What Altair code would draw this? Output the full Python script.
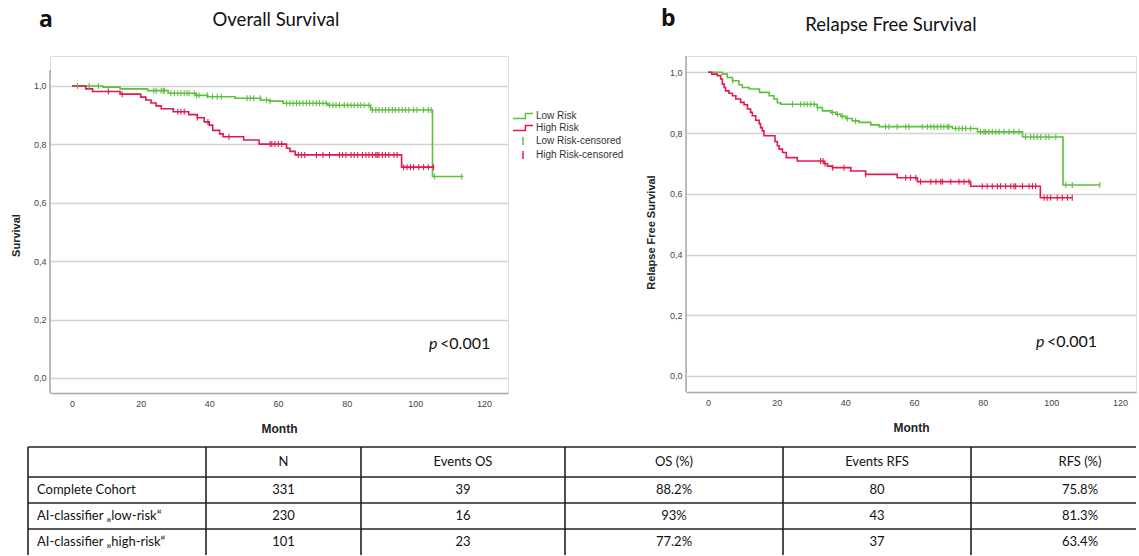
import altair as alt
import pandas as pd

# ---------------- data ----------------
# Overall survival, Kaplan-Meier steps (month, survival after the step)
os_low_month = [0, 9, 14, 22, 28, 36, 39.5, 47.5, 55, 57.5, 61.5, 74.5, 87, 105, 114]
os_low_surv = [1.0, 0.996, 0.990, 0.984, 0.975, 0.968, 0.963, 0.958, 0.952, 0.948,
               0.941, 0.934, 0.918, 0.690, 0.690]
os_high_month = [0, 4, 6, 14, 20, 21.5, 23, 24.5, 26, 29.5, 34, 36.5, 38.5, 40, 41, 43,
                 44, 50, 54.5, 62.5, 63.5, 65, 96, 105.5]
os_high_surv = [1.0, 0.990, 0.981, 0.972, 0.962, 0.952, 0.942, 0.932, 0.922, 0.912, 0.902,
                0.891, 0.877, 0.866, 0.848, 0.836, 0.826, 0.815, 0.801, 0.787, 0.776,
                0.764, 0.722, 0.722]
os_low_censored = [1.6, 5, 7.7, 23.8, 24.5, 26, 26.6, 26.9, 28.8, 29.8, 30.8, 31.7, 32.7,
                   33.5, 34.1, 35.6, 36.3, 37, 39.4, 40.9, 42.3, 43.5, 51, 51.9, 52.9, 54.8,
                   56.7, 57.7, 62.5, 63.5, 64.4, 65.4, 66.3, 67.3, 68.3, 69.2, 70.2, 71.2,
                   72.1, 73.1, 74, 75, 76, 76.9, 77.9, 79.3, 80.3, 81.3, 82.2, 83.2, 84.1,
                   85.1, 86.5, 87.5, 88.5, 89.4, 90.4, 91.3, 92.3, 93.3, 94.2, 95.2, 96.2,
                   97.1, 98.1, 99.5, 100.5, 102.4, 103.8, 104.6, 105.6, 113.5]
os_high_censored = [10.6, 14.6, 30.8, 31.7, 32.7, 36.5, 39.6, 45.7, 57.7, 58.2, 59.1, 60.1,
                    61.1, 65.9, 66.8, 67.8, 71.2, 73.1, 75, 77.9, 78.8, 79.8, 81.3, 82.2,
                    83.2, 84.6, 85.6, 86.5, 87.5, 88.5, 88.9, 89.4, 90.4, 91.3, 92.3, 93.8,
                    94.7, 96.6, 97.6, 98.6, 99.5, 101, 102.4, 103.8, 105.3]

# Relapse free survival
rfs_low_month = [0, 4.2, 5.6, 7.1, 9, 10, 12, 15, 17.8, 19.2, 20.2, 21.2, 31.8, 33.3, 35.7,
                 37.2, 38.6, 40.1, 42, 44, 47.4, 49.8, 71.2, 78.5, 91.6, 103.4, 114.1]
rfs_low_surv = [1.0, 0.994, 0.983, 0.972, 0.959, 0.950, 0.945, 0.934, 0.923, 0.912, 0.900,
                0.895, 0.884, 0.873, 0.868, 0.862, 0.855, 0.848, 0.840, 0.835, 0.827,
                0.821, 0.815, 0.804, 0.787, 0.629, 0.629]
rfs_high_month = [0, 1.1, 2.7, 3.7, 4.2, 4.7, 5.1, 6.1, 7.1, 8.1, 9.5, 10.5, 11.5, 12.4,
                  12.9, 13.9, 14.9, 15.3, 15.8, 16.3, 19.5, 20.2, 20.7, 21.7, 22.8, 26,
                  33.8, 34.8, 36.2, 41.6, 45.9, 55.1, 61, 76.5, 96.8, 106]
rfs_high_surv = [1.0, 0.994, 0.989, 0.978, 0.961, 0.950, 0.939, 0.931, 0.923, 0.912, 0.901,
                 0.893, 0.879, 0.868, 0.857, 0.842, 0.831, 0.818, 0.807, 0.791, 0.772,
                 0.758, 0.747, 0.736, 0.719, 0.708, 0.699, 0.691, 0.686, 0.675, 0.664,
                 0.653, 0.640, 0.625, 0.587, 0.587]
rfs_low_censored = [7.2, 24.6, 27, 28, 28.9, 29.9, 30.9, 31.9, 36.2, 37.7, 39.1, 40.6, 43,
                    51.7, 52.7, 55.1, 57.6, 58.5, 62.4, 63.9, 64.9, 65.8, 66.8, 67.8, 68.7,
                    69.7, 70.2, 72.1, 73.1, 74.1, 75.1, 76.5, 79.4, 80.4, 80.9, 81.8, 82.8,
                    83.8, 84.8, 86.2, 87.7, 89.1, 90.6, 92.5, 94, 94.9, 95.9, 96.9, 98.4,
                    99.3, 101.3, 104.2, 106.1, 114.1]
rfs_high_censored = [32.8, 33.5, 34.1, 36.3, 39.6, 45.9, 57.6, 59, 60.5, 61.9, 64.9, 66.4,
                     67.8, 68.3, 70.7, 73.1, 74.6, 76, 79.9, 81.3, 82.8, 84.3, 85.2, 86.7,
                     88.2, 89.1, 89.6, 91.6, 93.5, 94.5, 95.4, 97.9, 98.8, 99.8, 101.7,
                     103.2, 104.7, 106.1]

series_names = ["Low Risk", "High Risk", "Low Risk-censored", "High Risk-censored"]
p_label = ["p", "<0.001"]

# table
table_header = ["", "N", "Events OS", "OS (%)", "Events RFS", "RFS (%)"]
table_groups = ["Complete Cohort", "AI-classifier \u201elow-risk\u201c", "AI-classifier \u201ehigh-risk\u201c"]
table_n = ["331", "230", "101"]
table_events_os = ["39", "16", "23"]
table_os_pct = ["88.2%", "93%", "77.2%"]
table_events_rfs = ["80", "43", "37"]
table_rfs_pct = ["75.8%", "81.3%", "63.4%"]

# ---------------- styling / layout ----------------
GREEN = "#5cbf3e"
RED = "#e2184c"
GRID = "#d2d2d2"
AXIS_GRAY = "#a8a8a8"
STEP = "M-2.5,0.6H0.6V-0.6H2.5"
TICK = "M0,-1V1"
SERIES_COLORS = [GREEN, RED, GREEN, RED]
SERIES_SHAPES = [STEP, STEP, TICK, TICK]

LEFT_ORIGIN = (51, 56)  # page position of the left plot area
LEFT = dict(width=458, height=337, xdom=[-6.41, 127.0], ydom=[-0.0514, 1.1027],
            axis_top=1.0548, ytitle="Survival", ytitle_x=-34, ytitle_y=179,
            title="Overall Survival", title_x=226, title_y=-36, letter="a",
            letter_x=-11, letter_y=-36, p_month=104, p_surv=0.116)
RIGHT = dict(width=450, height=336, xdom=[-6.41, 124.66], ydom=[-0.0527, 1.0537],
             axis_top=1.0537, ytitle="Relapse Free Survival", ytitle_x=-35, ytitle_y=176,
             title="Relapse Free Survival", title_x=205, title_y=-31, letter="b",
             letter_x=-25, letter_y=-37, p_month=95.5, p_surv=0.112)

# table layout in page pixels
COL_EDGES = [29, 207, 362, 566, 784, 972, 1190]
ROW_EDGES = [447, 477, 503, 529, 555]
TABLE_X = [29, 1137]
TABLE_Y = [446, 555]


def surv_at(months, survs, t):
    s = survs[0]
    for m, v in zip(months, survs):
        if m <= t:
            s = v
        else:
            break
    return s


def km_panel(low_m, low_s, high_m, high_s, low_c, high_c, cfg, show_legend):
    low_line = pd.DataFrame({"month": low_m, "surv": low_s})
    high_line = pd.DataFrame({"month": high_m, "surv": high_s})
    cens = pd.DataFrame({
        "month": low_c + high_c,
        "surv": [surv_at(low_m, low_s, t) for t in low_c]
        + [surv_at(high_m, high_s, t) for t in high_c],
        "series": ["Low Risk-censored"] * len(low_c) + ["High Risk-censored"] * len(high_c),
    })
    xs = alt.Scale(domain=cfg["xdom"], nice=False, zero=False)
    ys = alt.Scale(domain=cfg["ydom"], nice=False, zero=False)
    cs = alt.Scale(domain=series_names, range=SERIES_COLORS)
    ss = alt.Scale(domain=series_names, range=SERIES_SHAPES)

    xaxis = alt.Axis(values=[0, 20, 40, 60, 80, 100, 120], format="d", grid=False,
                     domain=True, domainColor=AXIS_GRAY, domainWidth=1.5, ticks=False,
                     labelFont="Liberation Sans", labelFontSize=9, labelColor="#444",
                     labelPadding=6, title="Month", titleFont="Liberation Sans",
                     titleFontSize=12, titleFontWeight="bold", titleColor="#222",
                     titlePadding=15)
    yaxis = alt.Axis(values=[0, 0.2, 0.4, 0.6, 0.8, 1.0],
                     labelExpr="replace(format(datum.value, '.1f'), '.', ',')",
                     grid=True, gridColor=GRID, gridWidth=1.5, domain=False, ticks=False,
                     labelFont="Liberation Sans", labelFontSize=9, labelColor="#444",
                     labelPadding=4, title=cfg["ytitle"], titleFont="Liberation Sans",
                     titleFontSize=11, titleFontWeight="bold", titleColor="#222",
                     titleX=cfg["ytitle_x"], titleY=cfg["ytitle_y"], titleAngle=270,
                     titleAlign="center", titleBaseline="middle")

    low = alt.Chart(low_line).mark_line(interpolate="step-after", strokeWidth=1.6, color=GREEN).encode(
        x=alt.X("month:Q", scale=xs, axis=xaxis),
        y=alt.Y("surv:Q", scale=ys, axis=yaxis),
    )
    high = alt.Chart(high_line).mark_line(interpolate="step-after", strokeWidth=1.6, color=RED).encode(
        x="month:Q", y="surv:Q",
    )
    if show_legend:
        leg = alt.Legend(orient="none", legendX=468, legendY=55, padding=0, title=None,
                         symbolSize=64, symbolStrokeWidth=1.5, labelOffset=8,
                         labelFont="Liberation Sans", labelFontSize=10, labelColor="#333",
                         rowPadding=0)
    else:
        leg = None
    pts = alt.Chart(cens).mark_point(filled=False, size=36, strokeWidth=1.1, opacity=1).encode(
        x="month:Q",
        y="surv:Q",
        color=alt.Color("series:N", scale=cs, legend=leg),
        shape=alt.Shape("series:N", scale=ss, legend=leg),
    )
    axis_line = alt.Chart(pd.DataFrame({"top": [cfg["axis_top"]], "bottom": [cfg["ydom"][0]]})).mark_rule(
        color=AXIS_GRAY, strokeWidth=1.5).encode(
        x=alt.value(0), y="top:Q", y2="bottom:Q")

    pdf = pd.DataFrame({"month": [cfg["p_month"]], "surv": [cfg["p_surv"]],
                        "p": [p_label[0]], "rest": [p_label[1]]})
    p_it = alt.Chart(pdf).mark_text(font="Lato", fontSize=16, fontStyle="italic",
                                    align="left", baseline="middle", color="#111").encode(
        x="month:Q", y="surv:Q", text="p:N")
    p_rest = alt.Chart(pdf).mark_text(font="Lato", fontSize=16, align="left",
                                      baseline="middle", dx=11, color="#111").encode(
        x="month:Q", y="surv:Q", text="rest:N")

    tdf = pd.DataFrame({"title": [cfg["title"]], "letter": [cfg["letter"]]})
    title = alt.Chart(tdf).mark_text(font="Lato", fontSize=18.5, align="center",
                                     baseline="middle", color="#111").encode(
        x=alt.value(cfg["title_x"]), y=alt.value(cfg["title_y"]), text="title:N")
    letter = alt.Chart(tdf).mark_text(font="Open Sans", fontSize=23, fontWeight="bold",
                                      align="left", baseline="middle", color="#111").encode(
        x=alt.value(cfg["letter_x"]), y=alt.value(cfg["letter_y"]), text="letter:N")

    return alt.layer(low, high, axis_line, pts, p_it, p_rest, title, letter)


# ---------------- table (drawn in page-pixel scales, anchored to the left panel) ----------------
cells = []
rows_text = [table_header] + [
    [g, n, eo, op, er, rp] for g, n, eo, op, er, rp in
    zip(table_groups, table_n, table_events_os, table_os_pct, table_events_rfs, table_rfs_pct)
]
for r, row in enumerate(rows_text):
    yc = (ROW_EDGES[r] + ROW_EDGES[r + 1]) / 2
    for c, txt in enumerate(row):
        if c == 0:
            cells.append({"x": COL_EDGES[0] + 9, "y": yc, "t": txt, "al": "left"})
        else:
            cells.append({"x": (COL_EDGES[c] + COL_EDGES[c + 1]) / 2, "y": yc, "t": txt, "al": "center"})
cells = pd.DataFrame(cells)

tx = alt.Scale(domain=TABLE_X, range=[TABLE_X[0] - LEFT_ORIGIN[0], TABLE_X[1] - LEFT_ORIGIN[0]],
               nice=False, zero=False)
ty = alt.Scale(domain=TABLE_Y, range=[TABLE_Y[0] - LEFT_ORIGIN[1], TABLE_Y[1] - LEFT_ORIGIN[1]],
               nice=False, zero=False)

visible_cols = [e for e in COL_EDGES if e < TABLE_X[1]]
hl = pd.DataFrame({"y": ROW_EDGES[:-1], "x1": [COL_EDGES[0]] * (len(ROW_EDGES) - 1),
                   "x2": [TABLE_X[1]] * (len(ROW_EDGES) - 1)})
vl = pd.DataFrame({"x": visible_cols, "y1": [ROW_EDGES[0]] * len(visible_cols),
                   "y2": [TABLE_Y[1]] * len(visible_cols)})

h_rules = alt.Chart(hl).mark_rule(color="#222", strokeWidth=1.6).encode(
    x=alt.X("x1:Q", scale=tx, axis=None), x2="x2:Q",
    y=alt.Y("y:Q", scale=ty, axis=None))
v_rules = alt.Chart(vl).mark_rule(color="#222", strokeWidth=1.6).encode(
    x=alt.X("x:Q", scale=tx, axis=None),
    y=alt.Y("y1:Q", scale=ty, axis=None), y2="y2:Q")
t_left = alt.Chart(cells[cells["al"] == "left"]).mark_text(
    font="Lato", fontSize=13, align="left", baseline="middle", color="#111").encode(
    x=alt.X("x:Q", scale=tx, axis=None), y=alt.Y("y:Q", scale=ty, axis=None), text="t:N")
t_center = alt.Chart(cells[cells["al"] == "center"]).mark_text(
    font="Lato", fontSize=13, align="center", baseline="middle", color="#111").encode(
    x=alt.X("x:Q", scale=tx, axis=None), y=alt.Y("y:Q", scale=ty, axis=None), text="t:N")
table = alt.layer(h_rules, v_rules, t_left, t_center)

left_km = km_panel(os_low_month, os_low_surv, os_high_month, os_high_surv,
                   os_low_censored, os_high_censored, LEFT, True)
left = alt.layer(left_km, table).resolve_scale(x="independent", y="independent").properties(
    width=LEFT["width"], height=LEFT["height"])
right = km_panel(rfs_low_month, rfs_low_surv, rfs_high_month, rfs_high_surv,
                 rfs_low_censored, rfs_high_censored, RIGHT, False).properties(
    width=RIGHT["width"], height=RIGHT["height"])

chart = alt.hconcat(left, right, spacing=178, bounds="flush").resolve_scale(
    color="independent", shape="independent", x="independent", y="independent"
).properties(
    padding={"left": 9, "top": 7, "right": 0, "bottom": 0}
).configure_view(stroke=None).configure(background="white")

chart.save("out.html", embed_options={"renderer": "svg", "actions": False})
